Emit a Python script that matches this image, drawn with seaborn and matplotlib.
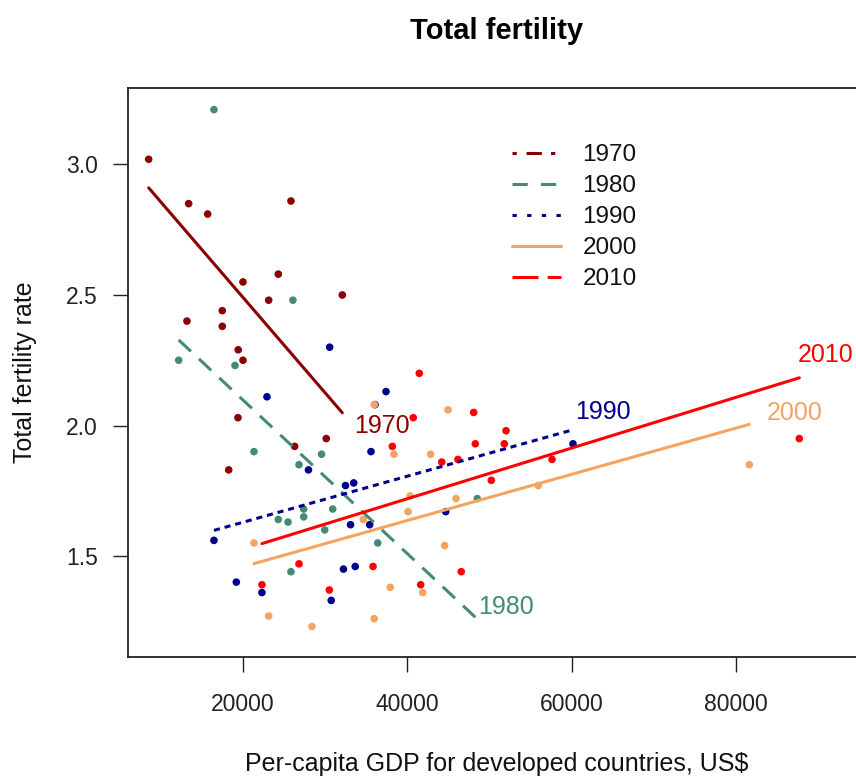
import numpy as np
import pandas as pd
import matplotlib
matplotlib.use("Agg")
import matplotlib.pyplot as plt
from matplotlib.lines import Line2D
import seaborn as sns

# values
years = ["1970", "1980", "1990", "2000", "2010"]

gdp_1970 = [8520, 13390, 15700, 25840, 24300, 20000, 23130, 32090, 17480,
            13180, 17480, 19420, 20000, 19390, 30140, 18260, 26290]
tfr_1970 = [3.02, 2.85, 2.81, 2.86, 2.58, 2.55, 2.48, 2.50, 2.44,
            2.40, 2.38, 2.29, 2.25, 2.03, 1.95, 1.83, 1.92]

gdp_1980 = [16470, 26080, 12170, 19030, 21340, 26820, 29560, 24300,
            25480, 27390, 27390, 30920, 29950, 25840, 36400, 48520]
tfr_1980 = [3.21, 2.48, 2.25, 2.23, 1.90, 1.85, 1.89, 1.64,
            1.63, 1.68, 1.65, 1.68, 1.60, 1.44, 1.55, 1.72]

gdp_1990 = [30550, 22920, 27970, 32480, 33480, 33090, 35420, 16470, 19190,
            22310, 32230, 33660, 30740, 37410, 36070, 35580, 44680, 60170]
tfr_1990 = [2.30, 2.11, 1.83, 1.77, 1.78, 1.62, 1.62, 1.56, 1.40,
            1.36, 1.45, 1.46, 1.33, 2.13, 2.08, 1.90, 1.67, 1.93]

gdp_2000 = [35980, 44960, 38380, 42850, 40330, 45930, 40090, 34640, 21340,
            44550, 37930, 41880, 35980, 28400, 23130, 81630, 55950]
tfr_2000 = [2.08, 2.06, 1.89, 1.89, 1.73, 1.72, 1.67, 1.64, 1.55,
            1.54, 1.38, 1.36, 1.26, 1.23, 1.27, 1.85, 1.77]

gdp_2010 = [41460, 40730, 48080, 52020, 51810, 48280, 38180, 44190, 46170,
            50230, 57620, 87720, 26820, 22310, 30510, 35830, 41630, 46570]
tfr_2010 = [2.20, 2.03, 2.05, 1.98, 1.93, 1.93, 1.92, 1.86, 1.87,
            1.79, 1.87, 1.95, 1.47, 1.39, 1.37, 1.46, 1.39, 1.44]

# fitted lines as drawn in the reference (intercept, slope per US$)
fit_intercept = [3.222, 2.686, 1.453, 1.282, 1.331]
fit_slope = [-3.656e-5, -2.942e-5, 8.82e-6, 8.85e-6, 9.71e-6]

colors = {"1970": "#8B0000", "1980": "#458B74", "1990": "#00008B",
          "2000": "#F4A460", "2010": "#FF0000"}
line_styles = {"1970": "-", "1980": (0, (5.5, 3.6)), "1990": (0, (2, 1.6)),
               "2000": "-", "2010": "-"}
legend_styles = {"1970": (0, (1.4, 3.2, 5, 3)), "1980": (0, (5, 4.3)),
                 "1990": (0, (1.4, 3.4)), "2000": "-", "2010": (0, (8.5, 3))}
# label offsets (pixels) from the right end of each line
label_offsets = {"1970": (12, -13), "1980": (1, 12), "1990": (2, 18),
                 "2000": (17, 11), "2010": (-2, 23)}

gdp = [gdp_1970, gdp_1980, gdp_1990, gdp_2000, gdp_2010]
tfr = [tfr_1970, tfr_1980, tfr_1990, tfr_2000, tfr_2010]
df = pd.concat([pd.DataFrame({"gdp": g, "tfr": t, "year": y})
                for g, t, y in zip(gdp, tfr, years)], ignore_index=True)

sns.set_style("ticks")
plt.rcParams["font.family"] = ["Liberation Sans", "DejaVu Sans"]
plt.rcParams["text.color"] = "#111111"

W, H = 856, 778
fig = plt.figure(figsize=(W / 100, H / 100), dpi=100)
ax = fig.add_axes([128.3 / W, 1 - 657.3 / H, (865 - 128.3) / W, (657.3 - 88) / H])

sns.scatterplot(data=df, x="gdp", y="tfr", hue="year", palette=colors,
                s=30, linewidth=0, legend=False, ax=ax, zorder=2)

for i, yr in enumerate(years):
    sub = df[df["year"] == yr]
    xs = np.array([sub["gdp"].min(), sub["gdp"].max()])
    ys = fit_intercept[i] + fit_slope[i] * xs
    sns.lineplot(x=xs, y=ys, color=colors[yr], linewidth=2.2,
                 linestyle=line_styles[yr], estimator=None, sort=False,
                 ax=ax, zorder=3)
    ax.annotate(yr, xy=(xs[1], ys[1]), xytext=label_offsets[yr],
                textcoords="offset pixels", color=colors[yr], fontsize=18,
                ha="left", va="center")

ax.set_xlim(6040, 95716)
ax.set_ylim(1.112, 3.293)
ax.set_xticks([20000, 40000, 60000, 80000])
ax.set_yticks([1.5, 2.0, 2.5, 3.0])
ax.set_yticklabels(["1.5", "2.0", "2.5", "3.0"])
ax.tick_params(direction="out", length=10.8, width=1.0, colors="#222222",
               labelsize=16.5, bottom=True, left=True)
ax.tick_params(axis="x", pad=15)
ax.tick_params(axis="y", pad=11)
for side in ["left", "bottom", "top"]:
    ax.spines[side].set_color("#222222")
    ax.spines[side].set_linewidth(1.3)
ax.spines["right"].set_visible(False)

ax.set_xlabel("Per-capita GDP for developed countries, US$", fontsize=18,
              color="#111111")
ax.xaxis.set_label_coords(0.5, -0.166)
ax.set_ylabel("Total fertility rate", fontsize=18, color="#111111")
ax.yaxis.set_label_coords(-0.124, 0.5)

fig.text(496.5 / W, 1 - 31 / H, "Total fertility", ha="center", va="center",
         fontsize=21, fontweight="bold", color="black")

handles = [Line2D([0], [0], color=colors[y], linewidth=2.2,
                  linestyle=legend_styles[y]) for y in years]
ax.legend(handles, years, loc="upper left",
          bbox_to_anchor=(512 / W, 1 - 144 / H), bbox_transform=fig.transFigure,
          frameon=False, borderpad=0, borderaxespad=0, handlelength=2.0,
          handletextpad=0.9, labelspacing=0.37, fontsize=17.5)

fig.savefig("out.png", dpi=100)
